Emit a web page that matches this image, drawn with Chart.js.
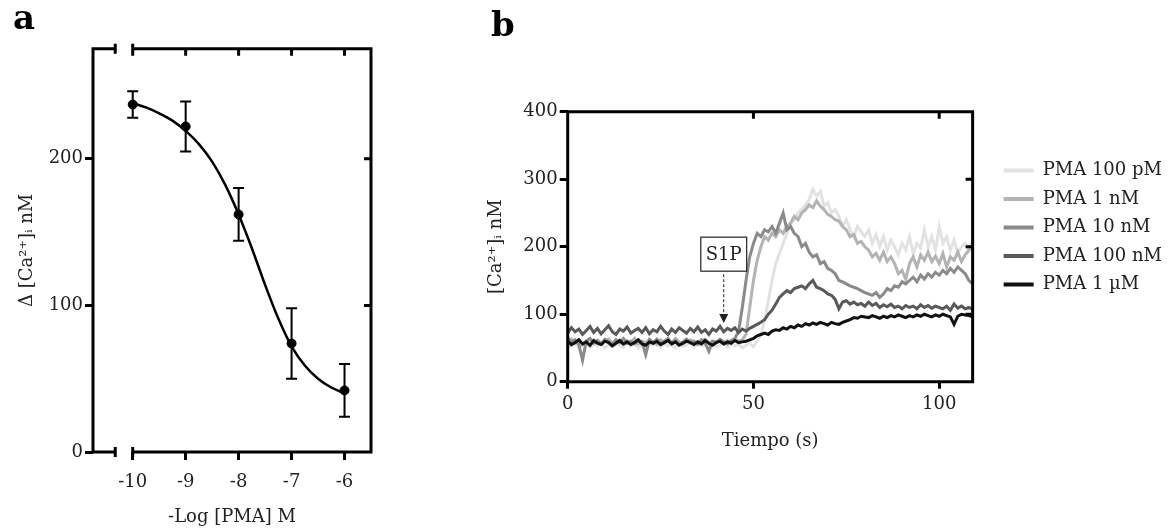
<!DOCTYPE html>
<html>
<head>
<meta charset="utf-8">
<script src="https://cdn.jsdelivr.net/npm/chart.js@4.4.0/dist/chart.umd.min.js"></script>
<style>
  body { margin: 0; background: #fff; width: 1174px; height: 531px; overflow: hidden; position: relative; }
  canvas { position: absolute; top: 0; }
  #chartA { left: 0; }
  #chartB { left: 460px; }
</style>
</head>
<body>
<canvas id="chartA" width="460" height="531"></canvas>
<canvas id="chartB" width="714" height="531"></canvas>
<script>
// ---- panel a : concentration-response ----
var logPMA = [-10, -9, -8, -7, -6];
var deltaCa = [237, 222, 162, 74, 42];
var semCa = [9, 17, 18, 24, 18];
// fitted curve
var fitX = [-10, -9.75, -9.5, -9.25, -9, -8.75, -8.5, -8.25, -8, -7.75, -7.5, -7.25, -7, -6.75, -6.5, -6.25, -6];
var fitY = [238, 235, 231, 226, 219, 210, 198, 182, 162, 139, 114, 91, 72, 59, 50, 44, 40];

// ---- panel b : time courses ----
var timeS = [0, 1, 2, 3, 4, 5, 6, 7, 8, 9, 10, 11, 12, 13, 14, 15, 16, 17, 18, 19,
  20, 21, 22, 23, 24, 25, 26, 27, 28, 29, 30, 31, 32, 33, 34, 35, 36, 37, 38, 39,
  40, 41, 42, 43, 44, 45, 46, 47, 48, 49, 50, 51, 52, 53, 54, 55, 56, 57, 58, 59,
  60, 61, 62, 63, 64, 65, 66, 67, 68, 69, 70, 71, 72, 73, 74, 75, 76, 77, 78, 79,
  80, 81, 82, 83, 84, 85, 86, 87, 88, 89, 90, 91, 92, 93, 94, 95, 96, 97, 98, 99,
  100, 101, 102, 103, 104, 105, 106, 107, 108, 109];
var seriesNames = ['PMA 100 pM', 'PMA 1 nM', 'PMA 10 nM', 'PMA 100 nM', 'PMA 1 \u00b5M'];
var pma100pM = [55, 52, 58, 50, 54, 57, 51, 56, 53, 59, 50, 55, 52, 57, 54, 51, 58, 53, 56, 50,
  55, 52, 57, 54, 59, 51, 56, 53, 55, 50, 57, 52, 54, 58, 51, 56, 53, 55, 50, 57,
  52, 54, 59, 51, 55, 53, 56, 50, 54, 57, 52, 60,
  70, 90, 120, 150, 175, 190, 205, 220,
  235, 240, 250, 255, 262, 270, 285, 275, 282, 260,
  265, 250, 255, 245, 230, 240, 225, 215, 230, 222,
  215, 225, 205, 218, 200, 215, 195, 210, 200, 188,
  205, 195, 215, 190, 205, 198, 225, 200, 215, 195,
  230, 205, 215, 195, 210, 190, 200, 205, 195, 210];
var pma1nM = [60, 63, 57, 62, 55, 59, 64, 58, 61, 56, 60, 63, 57, 62, 59, 55, 61, 58, 64, 56,
  60, 57, 63, 59, 55, 62, 58, 61, 57, 64, 59, 56, 60, 62, 58, 55, 61, 63, 57, 60,
  59, 62, 56, 61, 58, 63, 60, 62,
  70, 110, 150, 180, 200, 215, 210, 220, 215, 225, 220, 230,
  235, 245, 240, 250, 255, 262, 258, 268, 260, 255,
  248, 245, 240, 238, 230, 225, 215, 218, 205, 208,
  200, 195, 185, 190, 180, 192, 178, 185, 175, 160,
  165, 152, 175, 185, 170, 188, 180, 192, 178, 186,
  175, 190, 170, 185, 180, 192, 178, 188, 195, 200];
var pma10nM = [65, 58, 62, 55, 32, 60, 64, 57, 61, 56, 63, 59, 55, 62, 58, 64, 57, 60, 56, 61,
  59, 40, 62, 58, 63, 56, 60, 64, 57, 61, 55, 59, 63, 58, 60, 56, 62, 57, 45, 60,
  58, 63, 59, 56, 61, 64,
  75, 110, 150, 185,
  205, 220, 215, 225, 222, 230, 220, 235, 250, 225,
  230, 220, 215, 200, 205, 192, 185, 188, 175, 178,
  168, 165, 160, 150, 148, 145, 142, 140, 138, 135,
  132, 130, 128, 132, 125, 130, 138, 135, 142, 140,
  148, 145, 150, 155, 148, 158, 152, 160, 155, 162,
  158, 165, 160, 168, 162, 170, 165, 160, 150, 145];
var pma100nM = [72, 80, 74, 78, 70, 76, 82, 73, 79, 71, 77, 83, 74, 70, 78, 75, 81, 72, 76, 79,
  73, 80, 71, 77, 74, 82, 75, 70, 78, 73, 80, 76, 72, 79, 74, 81, 73, 77, 70, 78,
  75, 82, 74, 79, 76, 80, 73, 78, 75, 79, 82,
  85, 88, 92, 100, 106, 115, 125, 130, 135,
  132, 138, 140, 142, 138, 145, 150, 140, 138, 135,
  130, 128, 122, 108, 118, 120, 115, 118, 114, 116,
  112, 118, 113, 116, 110, 114, 111, 115, 110, 112,
  108, 113, 110, 112, 108, 114, 110, 113, 109, 112,
  110, 108, 112, 106, 115, 109, 112, 108, 110, 107];
var pma1uM = [60, 55, 58, 62, 56, 59, 54, 61, 57, 55, 60, 58, 53, 57, 61, 56, 59, 55, 58, 62,
  56, 54, 59, 57, 60, 55, 58, 61, 56, 59, 54, 57, 60, 58, 55, 59, 56, 61, 57, 54,
  58, 60, 56, 59, 57, 61, 58, 59,
  60, 62,
  64, 68, 70, 72, 70, 75, 77, 76, 80, 78,
  82, 80, 84, 82, 86, 84, 87, 85, 88, 86,
  84, 88, 86, 85, 88, 90, 92, 95, 94, 97,
  96, 95, 98, 96, 94, 97, 95, 98, 96, 99,
  97, 95, 98, 96, 99, 97, 100, 98, 96, 99,
  97, 100, 98, 96, 85, 97, 100, 99, 98, 96];
var seriesColors = ['#e2e2e2', '#b3b3b3', '#8a8a8a', '#595959', '#111111'];

// S1P marker
var s1pTime = 42;
var s1pBoxValue = 189;
var s1pArrowValue = 87;

Chart.defaults.font.family = "'DejaVu Serif', serif";
Chart.defaults.font.size = 18;
Chart.defaults.color = '#222';

// box round the plot, with inward ticks on top and right, and optional axis break
var framePlugin = {
  id: 'frame',
  afterDatasetsDraw: function(chart, args, opts) {
    var ctx = chart.ctx, a = chart.chartArea;
    var xs = chart.scales.x, ys = chart.scales.y;
    ctx.save();
    ctx.strokeStyle = '#000';
    ctx.lineWidth = 3;
    ctx.beginPath();
    ctx.moveTo(a.left, a.top - 1.5); ctx.lineTo(a.left, a.bottom + 1.5);
    ctx.moveTo(a.right, a.top - 1.5); ctx.lineTo(a.right, a.bottom + 1.5);
    [a.top, a.bottom].forEach(function(y) {
      if (opts.gap) {
        var g1 = xs.getPixelForValue(opts.gap[0]), g2 = xs.getPixelForValue(opts.gap[1]);
        ctx.moveTo(a.left, y); ctx.lineTo(g1, y);
        ctx.moveTo(g2, y); ctx.lineTo(a.right, y);
        ctx.moveTo(g1, y - 5); ctx.lineTo(g1, y + 5);
        ctx.moveTo(g2, y - 5); ctx.lineTo(g2, y + 5);
      } else {
        ctx.moveTo(a.left, y); ctx.lineTo(a.right, y);
      }
    });
    var len = opts.tickLength;
    xs.ticks.forEach(function(t) {
      var x = xs.getPixelForValue(t.value);
      ctx.moveTo(x, a.top); ctx.lineTo(x, a.top + len);
    });
    ys.ticks.forEach(function(t) {
      var y = ys.getPixelForValue(t.value);
      if (y > a.top + 2 && y < a.bottom - 2) { ctx.moveTo(a.right, y); ctx.lineTo(a.right - len, y); }
    });
    ctx.stroke();
    ctx.restore();
  }
};

var errorBarPlugin = {
  id: 'errorBars',
  afterDatasetsDraw: function(chart) {
    var ctx = chart.ctx, xs = chart.scales.x, ys = chart.scales.y;
    ctx.save();
    ctx.strokeStyle = '#000';
    ctx.lineWidth = 2;
    ctx.beginPath();
    logPMA.forEach(function(v, i) {
      var x = xs.getPixelForValue(v);
      var yTop = ys.getPixelForValue(deltaCa[i] + semCa[i]);
      var yBot = ys.getPixelForValue(deltaCa[i] - semCa[i]);
      ctx.moveTo(x, yTop); ctx.lineTo(x, yBot);
      ctx.moveTo(x - 5.5, yTop); ctx.lineTo(x + 5.5, yTop);
      ctx.moveTo(x - 5.5, yBot); ctx.lineTo(x + 5.5, yBot);
    });
    ctx.stroke();
    ctx.restore();
  }
};

var s1pPlugin = {
  id: 's1p',
  afterDatasetsDraw: function(chart) {
    var ctx = chart.ctx, xs = chart.scales.x, ys = chart.scales.y;
    var x = xs.getPixelForValue(s1pTime);
    var yBox = ys.getPixelForValue(s1pBoxValue);
    var yTip = ys.getPixelForValue(s1pArrowValue);
    ctx.save();
    ctx.font = "18px 'DejaVu Serif'";
    var w = ctx.measureText('S1P').width + 10, h = 34;
    ctx.fillStyle = '#fff';
    ctx.fillRect(x - w / 2, yBox - h / 2, w, h);
    ctx.strokeStyle = '#222';
    ctx.lineWidth = 1.2;
    ctx.strokeRect(x - w / 2, yBox - h / 2, w, h);
    ctx.fillStyle = '#222';
    ctx.textAlign = 'center';
    ctx.textBaseline = 'middle';
    ctx.fillText('S1P', x, yBox + 1);
    ctx.setLineDash([3, 2]);
    ctx.lineWidth = 1;
    ctx.beginPath();
    ctx.moveTo(x, yBox + h / 2 + 3); ctx.lineTo(x, yTip - 7);
    ctx.stroke();
    ctx.setLineDash([]);
    ctx.beginPath();
    ctx.moveTo(x - 4.5, yTip - 9); ctx.lineTo(x + 4.5, yTip - 9); ctx.lineTo(x, yTip);
    ctx.closePath();
    ctx.fill();
    ctx.restore();
  }
};

var tickGrid = { drawOnChartArea: false, drawTicks: true, tickLength: 8, lineWidth: 3, color: '#000' };

// ---------- chart a ----------
var fitPoints = fitX.map(function(x, i) { return { x: x, y: fitY[i] }; });
var meanPoints = logPMA.map(function(x, i) { return { x: x, y: deltaCa[i] }; });

new Chart(document.getElementById('chartA'), {
  type: 'scatter',
  data: {
    datasets: [
      { type: 'line', data: fitPoints, borderColor: '#000', borderWidth: 2.5, pointRadius: 0,
        cubicInterpolationMode: 'monotone', fill: false },
      { data: meanPoints, pointRadius: 4.5, backgroundColor: '#000', borderColor: '#000' }
    ]
  },
  options: {
    responsive: false,
    animation: false,
    devicePixelRatio: 1,
    layout: { padding: { left: 13, right: 89, top: 0, bottom: 0 } },
    plugins: {
      legend: { display: false },
      tooltip: { enabled: false },
      title: { display: true, text: 'a', align: 'start', color: '#000',
        font: { size: 34, weight: 'bold' }, padding: { top: 0, bottom: 8 } },
      frame: { gap: [-10.33, -10], tickLength: 7 }
    },
    scales: {
      x: {
        type: 'linear', min: -10.75, max: -5.5,
        ticks: { stepSize: 1, includeBounds: false, padding: 12 },
        grid: tickGrid,
        border: { display: false },
        title: { display: true, text: '-Log [PMA] M', padding: { top: 0, bottom: 3 } },
        afterFit: function(s) { s.height = 79; }
      },
      y: {
        min: 0, max: 275,
        ticks: { stepSize: 100, includeBounds: false, padding: 2 },
        grid: tickGrid,
        border: { display: false },
        title: { display: true, text: '\u0394 [Ca\u00b2\u207a]\u1d62 nM', padding: { top: 4, bottom: 0 } },
        afterFit: function(s) { s.width = 80; }
      }
    }
  },
  plugins: [framePlugin, errorBarPlugin]
});

// ---------- chart b ----------
var seriesData = [pma100pM, pma1nM, pma10nM, pma100nM, pma1uM];

new Chart(document.getElementById('chartB'), {
  type: 'line',
  data: {
    labels: timeS,
    datasets: seriesData.map(function(vals, i) {
      return {
        label: seriesNames[i],
        data: vals,
        borderColor: seriesColors[i],
        backgroundColor: seriesColors[i],
        borderWidth: 3,
        pointRadius: 0,
        tension: 0,
        fill: false,
        order: seriesData.length - 1 - i
      };
    })
  },
  options: {
    responsive: false,
    animation: false,
    devicePixelRatio: 1,
    layout: { padding: { left: 31, right: 2, top: 0, bottom: 0 } },
    plugins: {
      tooltip: { enabled: false },
      title: { display: true, text: 'b', align: 'start', color: '#000',
        font: { size: 34, weight: 'bold' }, padding: { top: 7, bottom: 64 } },
      legend: {
        position: 'right',
        align: 'start',
        maxWidth: 230,
        title: { display: true, text: ' ', font: { size: 10 }, padding: { top: 139, bottom: 0 } },
        labels: {
          boxWidth: 30,
          boxHeight: 4,
          padding: 10.5,
          color: '#222',
          generateLabels: function(chart) {
            return chart.data.datasets.map(function(ds, i) {
              return { text: ds.label, fillStyle: ds.borderColor, strokeStyle: ds.borderColor,
                lineWidth: 0, hidden: false, datasetIndex: i, fontColor: '#222' };
            });
          }
        }
      },
      frame: { gap: null, tickLength: 7 }
    },
    scales: {
      x: {
        type: 'linear', min: 0, max: 109,
        ticks: { stepSize: 50, includeBounds: false, padding: 5 },
        grid: { drawOnChartArea: false, drawTicks: true, tickLength: 7, lineWidth: 3, color: '#000' },
        border: { display: false },
        title: { display: true, text: 'Tiempo (s)', padding: { top: 0, bottom: 79 } },
        afterFit: function(s) { s.height = 149.3; }
      },
      y: {
        min: 0, max: 400,
        ticks: { stepSize: 100, padding: 2 },
        grid: tickGrid,
        border: { display: false },
        title: { display: true, text: '[Ca\u00b2\u207a]\u1d62 nM', padding: { top: -5, bottom: 0 } },
        afterFit: function(s) { s.width = 76.7; }
      },
      yGap: {
        position: 'right', display: true,
        ticks: { display: false },
        grid: { display: false },
        border: { display: false },
        afterFit: function(s) { s.width = 20.5; }
      }
    }
  },
  plugins: [framePlugin, s1pPlugin]
});
</script>
</body>
</html>
